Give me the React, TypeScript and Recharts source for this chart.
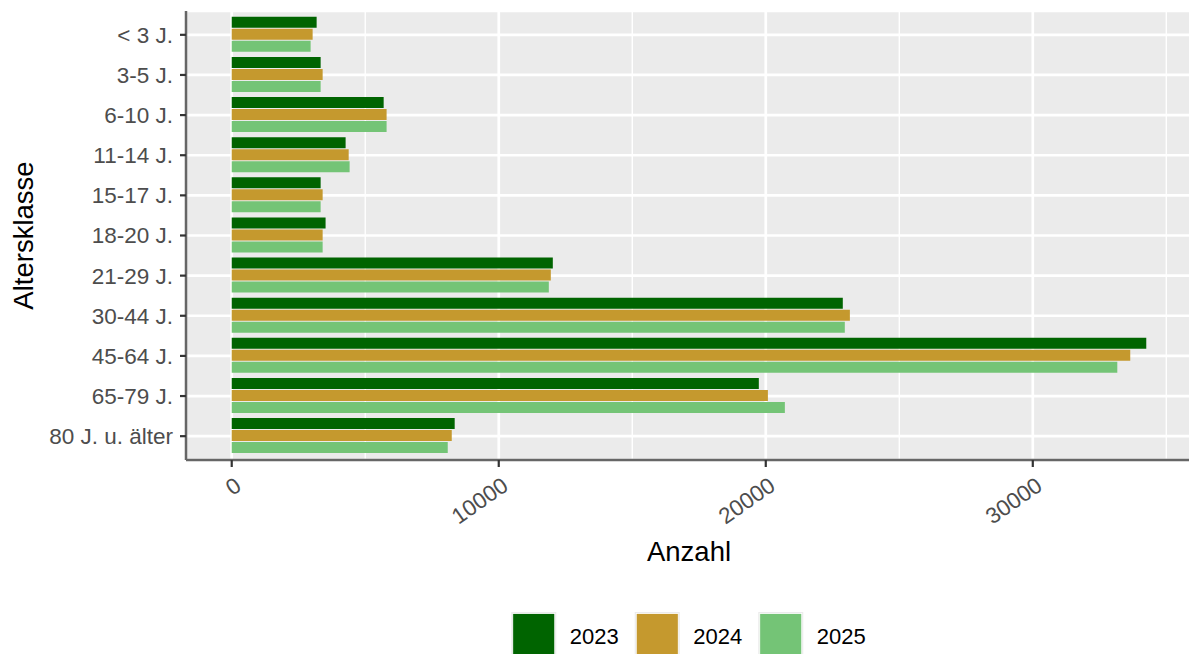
import React from 'react';
import { BarChart, Bar, XAxis, YAxis, CartesianGrid, Legend } from 'recharts';

const categories = ['< 3 J.', '3-5 J.', '6-10 J.', '11-14 J.', '15-17 J.', '18-20 J.', '21-29 J.', '30-44 J.', '45-64 J.', '65-79 J.', '80 J. u. älter'];
const values2023 = [3180, 3330, 5690, 4265, 3330, 3515, 12025, 22885, 34250, 19740, 8350];
const values2024 = [3030, 3405, 5800, 4380, 3405, 3405, 11950, 23150, 33650, 20080, 8240];
const values2025 = [2955, 3330, 5800, 4415, 3330, 3405, 11875, 22960, 33165, 20715, 8090];
const years = ['2023', '2024', '2025'];
const colors = ['#006400', '#C5992E', '#74C476'];
const xTicks = [0, 10000, 20000, 30000];
const xMinor = [5000, 15000, 25000, 35000];
const xDomain: [number, number] = [-1712.5, 35962.5];

const data = categories.map((c, i) => ({
  name: c,
  y2023: values2023[i],
  y2024: values2024[i],
  y2025: values2025[i],
}));

const FONT = '"Liberation Sans", Arial, Helvetica, sans-serif';
const W = 1192;
const H = 654;
const YAXIS_W = 186;

const XTick = (props: any) => {
  const { x, y, payload } = props;
  const ax = x + 11;
  const ay = y + 22;
  return (
    <text x={ax} y={ay} textAnchor="end" fill="#4D4D4D" fontSize={22.5} fontFamily={FONT}
      transform={`rotate(-35, ${ax}, ${ay})`}>
      {payload.value}
    </text>
  );
};

const XTitle = (props: any) => {
  const vb = props.viewBox || {};
  return (
    <text x={vb.x + vb.width / 2} y={vb.y + 101} textAnchor="middle" fill="#000" fontSize={27.5} fontFamily={FONT}>
      Anzahl
    </text>
  );
};

const YTitle = (props: any) => {
  const vb = props.viewBox || {};
  const cx = 33;
  const cy = vb.y + vb.height / 2;
  return (
    <text x={cx} y={cy} textAnchor="middle" fill="#000" fontSize={27.5} fontFamily={FONT}
      transform={`rotate(-90, ${cx}, ${cy})`}>
      Altersklasse
    </text>
  );
};

const LegendContent = () => {
  const step = 123.5;
  const total = step * years.length - 15;
  const center = YAXIS_W + (W - YAXIS_W) / 2;
  const start = center - total / 2;
  return (
    <svg width={W} height={42} style={{ display: 'block' }}>
      {years.map((yr, i) => {
        const x0 = start + i * step;
        return (
          <g key={yr}>
            <rect x={x0} y={0} width={45} height={45} fill="#EBEBEB" />
            <rect x={x0 + 1.5} y={1.5} width={42} height={42} fill={colors[i]} stroke="#FFFFFF" strokeWidth={0.8} />
            <text x={x0 + 58.5} y={32} fill="#000" fontSize={22} fontFamily={FONT}>{yr}</text>
          </g>
        );
      })}
    </svg>
  );
};

export default function App() {
  return (
    <div style={{ position: 'absolute', left: 0, top: 0, width: 1189, height: 654, overflow: 'hidden', background: '#fff' }}>
      <BarChart
        width={W}
        height={H}
        data={data}
        layout="vertical"
        margin={{ top: 11, right: 0, bottom: 0, left: 0 }}
        barCategoryGap="5%"
        barGap={1}
      >
        <CartesianGrid fill="#EBEBEB" stroke="#FFFFFF" strokeWidth={1.4} horizontal={false} verticalValues={xMinor} />
        <CartesianGrid fill="none" stroke="#FFFFFF" strokeWidth={2.7} verticalValues={xTicks} />
        <XAxis
          type="number"
          domain={xDomain}
          allowDataOverflow
          ticks={xTicks}
          interval={0}
          height={152}
          tickSize={7}
          tickMargin={0}
          tick={<XTick />}
          axisLine={{ stroke: '#666666', strokeWidth: 2.5 }}
          tickLine={{ stroke: '#333333', strokeWidth: 2.2 }}
          label={<XTitle />}
        />
        <YAxis
          type="category"
          dataKey="name"
          width={YAXIS_W}
          padding={{ top: 3.75, bottom: 3.75 }}
          interval={0}
          tickSize={6}
          tickMargin={7}
          tick={{ fill: '#4D4D4D', fontSize: 22.5, fontFamily: FONT }}
          axisLine={{ stroke: '#666666', strokeWidth: 2.5 }}
          tickLine={{ stroke: '#333333', strokeWidth: 2.2 }}
          label={<YTitle />}
        />
        <Legend verticalAlign="bottom" height={42} content={<LegendContent />} wrapperStyle={{ left: 0, bottom: 0, width: W }} />
        <Bar dataKey="y2023" name={years[0]} fill={colors[0]} isAnimationActive={false} />
        <Bar dataKey="y2024" name={years[1]} fill={colors[1]} isAnimationActive={false} />
        <Bar dataKey="y2025" name={years[2]} fill={colors[2]} isAnimationActive={false} />
      </BarChart>
    </div>
  );
}
